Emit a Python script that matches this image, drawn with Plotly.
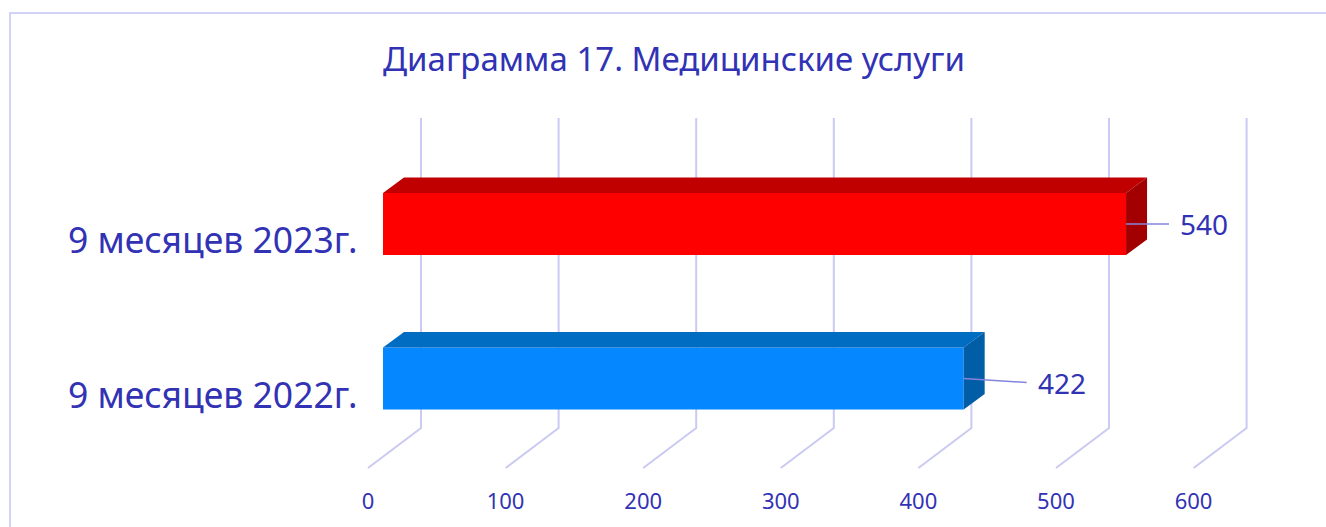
import plotly.graph_objects as go

# ---- data ----
categories = ["9 месяцев 2022г.", "9 месяцев 2023г."]
values = [422, 540]
tick_values = [0, 100, 200, 300, 400, 500, 600]
tick_labels = ["0", "100", "200", "300", "400", "500", "600"]
title_text = "Диаграмма 17. Медицинские услуги"

# ---- styles ----
front_colors = ["#0588FF", "#FF0000"]
top_colors = ["#006CC2", "#C00000"]
side_colors = ["#005DA6", "#A20000"]
label_offsets_px = [72, 52]      # gap from bar end to value label
label_leader_dy_px = [-4, 0]
text_color = "#3232B4"
grid_color = "#CACAF2"
font = "Noto Sans"

W, H = 1326, 527
PX_PER_UNIT = 1.376      # horizontal px per value unit
PX_PER_CAT = 154.5       # vertical px per category step
X0_PX = 383              # pixel of value 0 at bar front plane
Y1_PX = 224              # pixel of category index 1 center

def ux(px):
    return px / PX_PER_UNIT

def uy(px):
    return px / PX_PER_CAT

x_range = [-X0_PX / PX_PER_UNIT, (W - X0_PX) / PX_PER_UNIT]
y_range = [1 - (H - Y1_PX) / PX_PER_CAT, 1 + Y1_PX / PX_PER_CAT]

def ypix(py):
    return 1 - (py - Y1_PX) / PX_PER_CAT

BAR_W = 0.40
DX, DY = ux(21), uy(15.5)           # bar depth
FLOOR_FRONT = (-ux(15), ypix(468))  # relative x offset, y
FLOOR_BACK = (ux(38), ypix(428))
WALL_TOP = ypix(118)

fig = go.Figure()

# gridlines (floor + back wall), drawn below traces
for v in tick_values:
    path = (f"M {v + FLOOR_FRONT[0]},{FLOOR_FRONT[1]} "
            f"L {v + FLOOR_BACK[0]},{FLOOR_BACK[1]} "
            f"L {v + FLOOR_BACK[0]},{WALL_TOP}")
    fig.add_shape(type="path", path=path, xref="x", yref="y", layer="below",
                  line=dict(color=grid_color, width=2))

# tick labels
fig.add_trace(go.Scatter(x=[v + FLOOR_FRONT[0] for v in tick_values],
                         y=[ypix(503)] * len(tick_values),
                         mode="text", text=tick_labels,
                         textfont=dict(family=font, size=22, color=text_color),
                         hoverinfo="skip", showlegend=False))

# bars (front faces)
for i, (c, v) in enumerate(zip(categories, values)):
    fig.add_trace(go.Bar(x=[v], y=[i], orientation="h", width=BAR_W,
                         marker=dict(color=front_colors[i], line=dict(width=0)),
                         showlegend=False, hoverinfo="skip"))
    top = i + BAR_W / 2
    bot = i - BAR_W / 2
    # top face
    fig.add_trace(go.Scatter(x=[0, v, v + DX, DX, 0], y=[top, top, top + DY, top + DY, top],
                             fill="toself", fillcolor=top_colors[i], mode="lines",
                             line=dict(width=0, color=top_colors[i]),
                             hoverinfo="skip", showlegend=False))
    # side face
    fig.add_trace(go.Scatter(x=[v, v + DX, v + DX, v, v], y=[top, top + DY, bot + DY, bot, top],
                             fill="toself", fillcolor=side_colors[i], mode="lines",
                             line=dict(width=0, color=side_colors[i]),
                             hoverinfo="skip", showlegend=False))
    # leader line and value label
    lx_end = v + ux(label_offsets_px[i] - 9)
    fig.add_trace(go.Scatter(x=[v, lx_end], y=[i, i + uy(label_leader_dy_px[i])],
                             mode="lines", line=dict(color="#8484DC", width=1.5),
                             hoverinfo="skip", showlegend=False))
    fig.add_annotation(x=v + ux(label_offsets_px[i]), y=i + uy(label_leader_dy_px[i]),
                       text=str(v), showarrow=False, xanchor="left", yanchor="middle",
                       font=dict(family=font, size=28, color=text_color))
    # category label
    fig.add_annotation(x=359 / W, xref="paper", y=i - uy(15), yref="y",
                       text=c, showarrow=False, xanchor="right", yanchor="middle",
                       font=dict(family=font, size=35.5, color=text_color))

# title
fig.add_annotation(x=674 / W, xref="paper", y=ypix(58), yref="y", text=title_text,
                   showarrow=False, xanchor="center", yanchor="middle",
                   font=dict(family=font, size=33, color=text_color))

# outer border
fig.add_shape(type="rect", xref="paper", yref="paper",
              x0=10 / W, x1=1.01, y0=-0.05, y1=1 - 13 / H,
              line=dict(color="#D2D2F8", width=2), fillcolor="rgba(0,0,0,0)", layer="below")

fig.update_layout(
    width=W, height=H, margin=dict(l=0, r=0, t=0, b=0),
    paper_bgcolor="white", plot_bgcolor="white", barmode="overlay",
    xaxis=dict(range=x_range, visible=False, fixedrange=True),
    yaxis=dict(range=y_range, visible=False, fixedrange=True),
)

fig.write_html("out.html")
